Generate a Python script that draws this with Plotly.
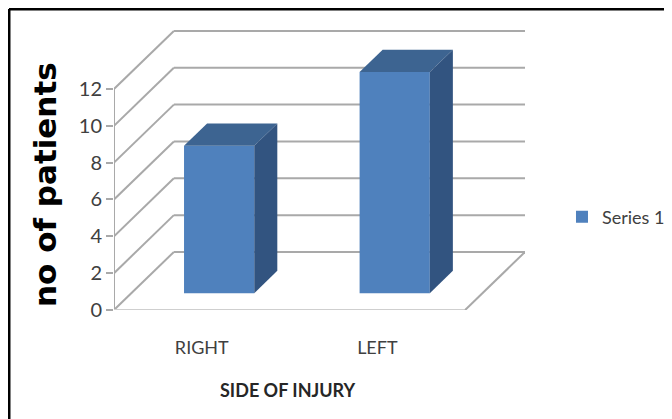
"""
3D-look column chart: side of injury vs number of patients
"""
import plotly.graph_objs as go

categories = ['RIGHT', 'LEFT']
patients = [8, 12]
y_ticks = [0, 2, 4, 6, 8, 10, 12]
series_name = 'Series 1'

# oblique projection, in axis units
WALL_DX = 0.341
WALL_DY = 3.15
BAR_GAP = 0.29      # how far into the floor the bars stand
BAR_DEPTH = 0.385
BAR_WIDTH = 0.4

FRONT = '#4f81bd'
TOP = '#3d6491'
SIDE = '#325480'
GRID = '#a9a9a9'
TEXT = '#404040'
LABEL_FONT = 'Lato'

n = len(categories)
centers = [i + 0.5 for i in range(n)]
bar_x = [c + BAR_GAP * WALL_DX for c in centers]
bar_base = [BAR_GAP * WALL_DY] * n

fig = go.Figure()

# front faces
fig.add_trace(go.Bar(
    x=bar_x, y=patients, base=bar_base, width=BAR_WIDTH,
    marker=dict(color=FRONT, line=dict(width=0)),
    name=series_name, showlegend=True,
    hovertemplate='%{y}<extra></extra>'
))

# top and side faces
for x, base, v in zip(bar_x, bar_base, patients):
    left = x - BAR_WIDTH / 2
    right = x + BAR_WIDTH / 2
    top = base + v
    ox = BAR_DEPTH * WALL_DX
    oy = BAR_DEPTH * WALL_DY
    fig.add_trace(go.Scatter(
        x=[left, right, right + ox, left + ox, left],
        y=[top, top, top + oy, top + oy, top],
        mode='lines', fill='toself', fillcolor=TOP,
        line=dict(width=0, color=TOP), showlegend=False, hoverinfo='skip'
    ))
    fig.add_trace(go.Scatter(
        x=[right, right + ox, right + ox, right, right],
        y=[base, base + oy, top + oy, top, base],
        mode='lines', fill='toself', fillcolor=SIDE,
        line=dict(width=0, color=SIDE), showlegend=False, hoverinfo='skip'
    ))

# walls and floor, behind the bars
shapes = []


def wall_line(x0, y0, x1, y1, color=GRID, width=2):
    shapes.append(dict(type='line', layer='below', xref='x', yref='y',
                       x0=x0, y0=y0, x1=x1, y1=y1,
                       line=dict(color=color, width=width)))


for v in y_ticks:
    wall_line(0, v, WALL_DX, v + WALL_DY)
    wall_line(WALL_DX, v + WALL_DY, n + WALL_DX, v + WALL_DY)
wall_line(0, 0, 0, max(y_ticks))
wall_line(0, 0, n, 0, color='#cfcfcf')
wall_line(n, 0, n + WALL_DX, WALL_DY)

# picture frame: only top and left show
shapes.append(dict(type='line', xref='paper', yref='paper',
                   x0=-0.2555, x1=1.4, y0=1.075, y1=1.075,
                   line=dict(color='black', width=3)))
shapes.append(dict(type='line', xref='paper', yref='paper',
                   x0=-0.2555, x1=-0.2555, y0=1.075, y1=-0.4,
                   line=dict(color='black', width=3)))

# the page body adds 8px on the top and left; extra width keeps the legend
# from pushing the plot area in
fig.update_layout(
    width=684, height=411,
    autosize=False,
    margin=dict(l=106, r=167, t=22, b=109),
    paper_bgcolor='white',
    plot_bgcolor='rgba(0,0,0,0)',
    shapes=shapes,
    xaxis=dict(
        range=[0, n + WALL_DX], showgrid=False, zeroline=False, showline=False,
        tickvals=centers, ticktext=categories,
        ticks='outside', ticklen=21, tickcolor='rgba(0,0,0,0)',
        tickfont=dict(family=LABEL_FONT, size=18, color=TEXT)
    ),
    yaxis=dict(
        range=[0, 15.2], showgrid=False, zeroline=False, showline=False,
        tickvals=y_ticks,
        ticks='outside', ticklen=7, tickwidth=2, tickcolor=GRID,
        tickfont=dict(family=LABEL_FONT, size=20, color=TEXT)
    ),
    legend=dict(
        x=1.09, y=0.332, xanchor='left', yanchor='middle',
        font=dict(family=LABEL_FONT, size=18, color=TEXT),
        bgcolor='rgba(0,0,0,0)'
    ),
    annotations=[
        dict(text='no of patients', xref='paper', yref='paper',
             x=-0.168, y=0.45, xanchor='center', yanchor='middle',
             textangle=-90, showarrow=False,
             font=dict(family='DejaVu Sans', size=31, color='black', weight='bold')),
        dict(text='SIDE OF INJURY', xref='paper', yref='paper',
             x=0.423, y=-0.286, xanchor='center', yanchor='middle',
             showarrow=False,
             font=dict(family=LABEL_FONT, size=18, color='#262626', weight='bold')),
    ]
)

fig.write_html('out.html')
